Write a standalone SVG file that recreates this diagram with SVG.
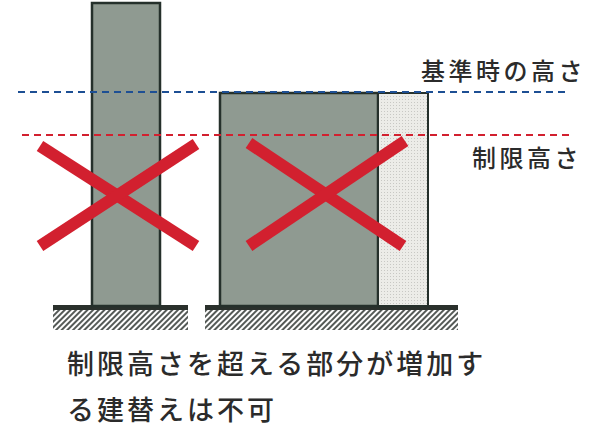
<svg xmlns="http://www.w3.org/2000/svg" width="589" height="430" viewBox="0 0 589 430">
<defs>
<pattern id="hatch" width="4" height="4" patternUnits="userSpaceOnUse" patternTransform="rotate(45)">
<rect width="4" height="4" fill="#ffffff"/>
<rect width="2" height="4" fill="#555a57"/>
</pattern>
<pattern id="dots" width="3" height="3" patternUnits="userSpaceOnUse">
<rect width="3" height="3" fill="#ecece8"/>
<rect width="1" height="1" fill="#c8c8c4"/>
</pattern>
</defs>
<style>
.bldg{fill:#8f9a91;stroke:#25302b;stroke-width:2.5}
.light{fill:url(#dots);stroke:#25302b;stroke-width:2}
.ground{fill:#2a302c}
.hatch{fill:url(#hatch)}
.x{stroke:#d2202f;stroke-width:12;stroke-linecap:butt}
.dash{stroke-width:2;stroke-dasharray:7 5;fill:none}
.t{font-family:"Noto Sans CJK JP","Noto Sans",sans-serif;fill:#2b2b2b;font-weight:500}
</style>
<g id="ground-left">
<rect class="hatch" x="53" y="310" width="135" height="20"/>
<rect class="ground" x="53" y="305" width="135" height="5"/>
</g>
<g id="ground-right">
<rect class="hatch" x="205" y="310" width="253" height="20"/>
<rect class="ground" x="205" y="305" width="253" height="5"/>
</g>
<g id="tower">
<rect class="bldg" x="92" y="3" width="68" height="303"/>
</g>
<g id="block">
<rect class="bldg" x="220" y="93" width="158" height="213"/>
</g>
<g id="addition">
<rect class="light" x="378" y="93" width="50" height="213"/>
</g>
<g id="connectors">
<line class="dash" x1="18" y1="92" x2="570" y2="92" stroke="#1d4f94"/>
<line class="dash" x1="22" y1="135" x2="570" y2="135" stroke="#d2202f"/>
<line class="x" x1="40" y1="146" x2="196" y2="246"/>
<line class="x" x1="40" y1="246" x2="196" y2="144"/>
<line class="x" x1="249" y1="143" x2="403" y2="246"/>
<line class="x" x1="249" y1="246" x2="405" y2="141"/>
</g>
<g id="labels">
<text class="t" x="421" y="80" font-size="24" letter-spacing="3.5">基準時の高さ</text>
<text class="t" x="472" y="167" font-size="24" letter-spacing="3.5">制限高さ</text>
<text class="t" x="67" y="374" font-size="27" letter-spacing="3">制限高さを超える部分が増加す</text>
<text class="t" x="67" y="420" font-size="27" letter-spacing="3">る建替えは不可</text>
</g>
</svg>
